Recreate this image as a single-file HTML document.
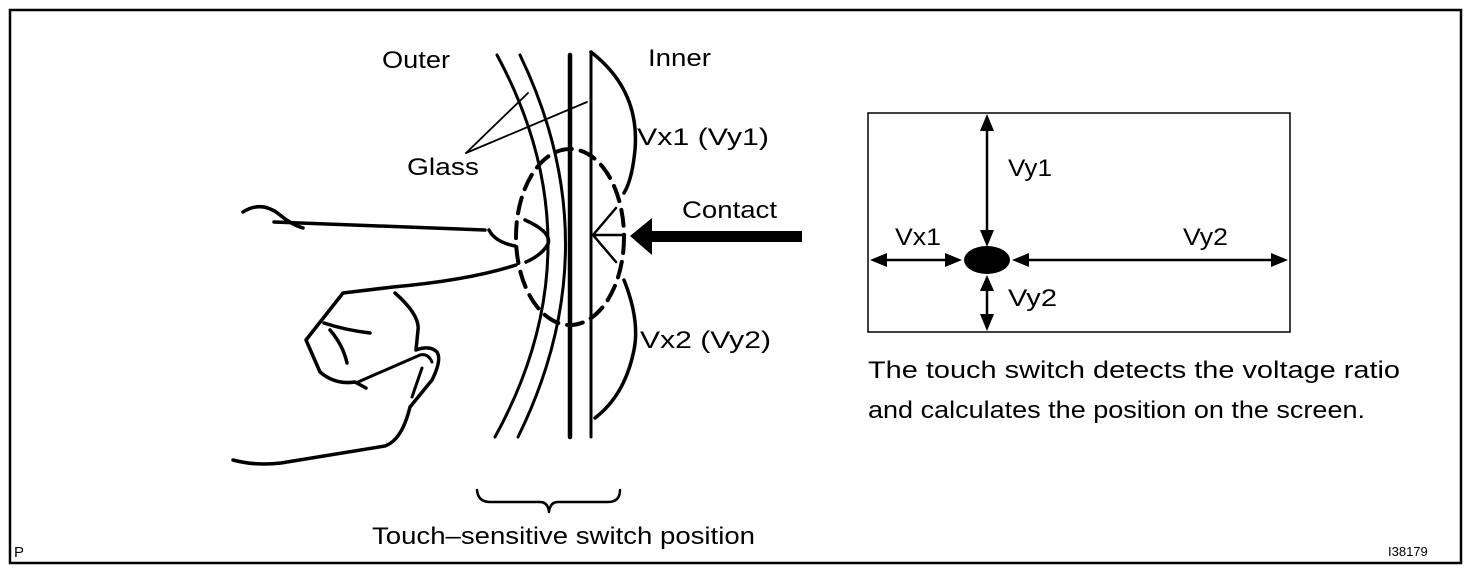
<!DOCTYPE html>
<html><head><meta charset="utf-8"><style>
html,body{margin:0;padding:0;background:#fff;}
svg{display:block;}
text{font-family:"Liberation Sans",Arial,sans-serif;fill:#000;}
</style></head><body>
<svg width="1472" height="572" viewBox="0 0 1472 572" xmlns="http://www.w3.org/2000/svg">
<rect x="10" y="10" width="1451" height="553" fill="none" stroke="#000" stroke-width="2.5"/>
<g fill="none" stroke="#000" stroke-linecap="round" stroke-linejoin="round">
<path d="M497,55 Q600,246 495,437" stroke-width="3"/>
<path d="M520,55 Q612,246 518,437" stroke-width="3"/>
<line x1="570" y1="55" x2="570" y2="437" stroke-width="4.5"/>
<line x1="591" y1="52" x2="591" y2="437" stroke-width="3"/>
<path d="M591,52 Q640,90 635,150 Q632,180 624,193" stroke-width="3.5"/>
<path d="M624,280 Q640,320 634,350 Q625,395 595,418" stroke-width="3.5"/>
<ellipse cx="570" cy="237" rx="54" ry="88" stroke-width="4" stroke-dasharray="16,9"/>
<line x1="466" y1="153" x2="528" y2="93" stroke-width="1.8"/>
<line x1="466" y1="153" x2="587" y2="102" stroke-width="1.8"/>
<path d="M593,235 L616,208 M593,235 L616,262 M593,235 L625,235" stroke-width="2.5"/>
<path d="M243,212 Q262,200 280,215 Q292,225 303,228" stroke-width="3.5"/>
<path d="M274,222 L485,230" stroke-width="3.5"/>
<path d="M489,230 Q495,242 515,246" stroke-width="3.5"/>
<path d="M525,220 Q552,232 548,244 Q542,255 526,262" stroke-width="3.5"/>
<path d="M516,265 Q470,280 393,287 L343,293 L306,340 L320,372 Q335,385 355,382 L366,388" stroke-width="3.5"/>
<path d="M324,323 Q345,330 370,333" stroke-width="3.5"/>
<path d="M330,330 Q343,345 347,363" stroke-width="3.5"/>
<path d="M395,293 Q420,315 418,330 L416,350 Q430,345 437,352 Q442,360 432,380 L410,407 Q402,440 385,446 L281,463 Q255,466 233,460" stroke-width="3.5"/>
<path d="M358,382 L420,355 Q428,353 432,362" stroke-width="3"/>
<path d="M422,368 L412,397" stroke-width="3"/>
<path d="M477,490 Q478,502 490,502 L540,502 Q548,502 549,512 Q550,502 558,502 L608,502 Q620,502 620,490" stroke-width="2.5"/>
</g>
<rect x="648" y="231" width="154" height="11" fill="#000"/>
<polygon points="630,236 652,218 652,255" fill="#000"/>
<g font-size="24">
<text x="382" y="68" textLength="68" lengthAdjust="spacingAndGlyphs">Outer</text>
<text x="648" y="66" textLength="63" lengthAdjust="spacingAndGlyphs">Inner</text>
<text x="407" y="175" textLength="72" lengthAdjust="spacingAndGlyphs">Glass</text>
<text x="637" y="145" textLength="132" lengthAdjust="spacingAndGlyphs">Vx1 (Vy1)</text>
<text x="682" y="218" textLength="95" lengthAdjust="spacingAndGlyphs">Contact</text>
<text x="640" y="348" textLength="131" lengthAdjust="spacingAndGlyphs">Vx2 (Vy2)</text>
<text x="372" y="544" textLength="383" lengthAdjust="spacingAndGlyphs">Touch–sensitive switch position</text>
</g>
<text x="14" y="557" font-size="15">P</text>
<text x="1388" y="556" font-size="13">I38179</text>
<rect x="868" y="113" width="422" height="219" fill="none" stroke="#000" stroke-width="1.5"/>
<ellipse cx="987" cy="260" rx="23" ry="14" fill="#000"/>
<g stroke="#000" stroke-width="2.5">
<line x1="987" y1="125" x2="987" y2="235"/>
<line x1="987" y1="285" x2="987" y2="320"/>
<line x1="882" y1="260" x2="952" y2="260"/>
<line x1="1022" y1="260" x2="1276" y2="260"/>
</g>
<g fill="#000">
<polygon points="987,114 980,131 994,131"/>
<polygon points="987,247 980,230 994,230"/>
<polygon points="987,275 980,291 994,291"/>
<polygon points="987,331 980,314 994,314"/>
<polygon points="870,260 887,253 887,267"/>
<polygon points="962,260 945,253 945,267"/>
<polygon points="1012,260 1029,253 1029,267"/>
<polygon points="1288,260 1271,253 1271,267"/>
</g>
<g font-size="24">
<text x="1008" y="176" textLength="44" lengthAdjust="spacingAndGlyphs">Vy1</text>
<text x="895" y="245" textLength="46" lengthAdjust="spacingAndGlyphs">Vx1</text>
<text x="1183" y="245" textLength="45" lengthAdjust="spacingAndGlyphs">Vy2</text>
<text x="1008" y="306" textLength="49" lengthAdjust="spacingAndGlyphs">Vy2</text>
<text x="868" y="378" textLength="532" lengthAdjust="spacingAndGlyphs">The touch switch detects the voltage ratio</text>
<text x="868" y="418" textLength="497" lengthAdjust="spacingAndGlyphs">and calculates the position on the screen.</text>
</g>
</svg>
</body></html>
